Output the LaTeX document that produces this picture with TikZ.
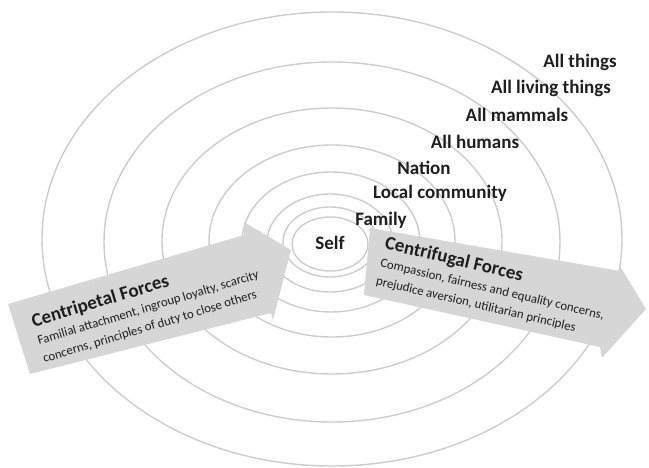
\documentclass[tikz,border=0pt]{standalone}
\usepackage{fontspec}
\setmainfont{Carlito}
\definecolor{ringgray}{HTML}{CCCCCC}
\definecolor{arrowgray}{HTML}{D6D6D6}
\definecolor{textdark}{HTML}{1E1E1E}
\newcommand{\forcetitlefont}{\fontsize{19}{18.5}\selectfont\bfseries}
\begin{document}
\begin{tikzpicture}[x=1pt,y=-1pt,
  ring/.style={draw=ringgray, line width=1.4pt},
  forcearrow/.style={fill=arrowgray, draw=none},
  ringlabel/.style={font=\fontsize{19}{20}\selectfont\bfseries, text=textdark, inner sep=0pt},
  forcebox/.style={font=\fontsize{12.8}{18.5}\selectfont, text=textdark, inner sep=0pt, align=left, anchor=base west}]
\useasboundingbox (0,0) rectangle (649,468);
% rings
\draw[ring] (330,244) ellipse [x radius=38, y radius=27];
\draw[ring] (330,242) ellipse [x radius=47, y radius=35];
\draw[ring] (330,243) ellipse [x radius=63, y radius=49];
\draw[ring] (331,242) ellipse [x radius=89, y radius=70];
\draw[ring] (332,241) ellipse [x radius=123, y radius=96];
\draw[ring] (332,241) ellipse [x radius=170, y radius=133];
\draw[ring] (332,242) ellipse [x radius=228, y radius=180];
\draw[ring] (332,239) ellipse [x radius=290, y radius=227];
% arrows
\fill[forcearrow] (8,304) -- (244,235) -- (244,222) -- (291,250) -- (273,320) -- (271,313) -- (30,374) -- cycle;
\fill[forcearrow] (370,228) -- (620,271) -- (620,266) -- (646,309) -- (602,358) -- (600,347) -- (364,295) -- cycle;
% ring labels
\node[ringlabel] (self) at (330,243) {Self};
\node[ringlabel] (family) at (381,220) {Family};
\node[ringlabel] (local) at (440,193) {Local community};
\node[ringlabel] (nation) at (424,168) {Nation};
\node[ringlabel] (humans) at (475,142) {All humans};
\node[ringlabel] (mammals) at (517,115) {All mammals};
\node[ringlabel] (living) at (551,88) {All living things};
\node[ringlabel] (things) at (580,62) {All things};
% arrow texts (anchor = baseline of the last line)
\node[forcebox, rotate=16.8] (centripetal) at (44.3,362.6)
  {{\forcetitlefont Centripetal Forces}\\Familial attachment, ingroup loyalty, scarcity\\concerns, principles of duty to close others};
\node[forcebox, rotate=-13.3] (centrifugal) at (375.4,284.6)
  {{\forcetitlefont Centrifugal Forces}\\Compassion, fairness and equality concerns,\\prejudice aversion, utilitarian principles};
\end{tikzpicture}
\end{document}
